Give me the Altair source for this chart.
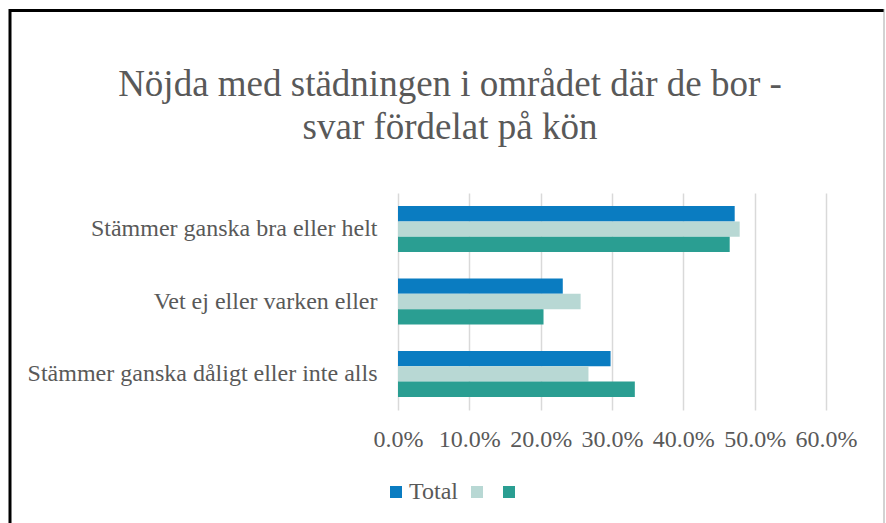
import altair as alt
import pandas as pd

categories = [
    "Stämmer ganska bra eller helt",
    "Vet ej eller varken eller",
    "Stämmer ganska dåligt eller inte alls",
]
series = ["Total", " ", "  "]
total_values = [0.472, 0.231, 0.298]
series2_values = [0.479, 0.256, 0.267]
series3_values = [0.465, 0.204, 0.332]
colors = ["#0A7CC1", "#B8D8D4", "#2A9E92"]
tick_values = [0.0, 0.1, 0.2, 0.3, 0.4, 0.5, 0.6]
title_lines = ["Nöjda med städningen i området där de bor -", "svar fördelat på kön"]

rows = []
for i, cat in enumerate(categories):
    for s, vals in zip(series, [total_values, series2_values, series3_values]):
        rows.append({"kategori": cat, "serie": s, "andel": vals[i]})
df = pd.DataFrame(rows)

FONT = "Liberation Serif"
GRAY = "#595959"

bars = alt.Chart(df).mark_bar().encode(
    x=alt.X(
        "andel:Q",
        scale=alt.Scale(domain=[0, 0.6], nice=False),
        axis=alt.Axis(
            values=tick_values, format=".1%", title=None, domain=False, ticks=False,
            labelFont=FONT, labelFontSize=24, labelColor=GRAY, labelPadding=17,
            grid=True, gridColor="#D9D9D9", gridWidth=1.5, labelFlush=False,
        ),
    ),
    y=alt.Y(
        "kategori:N", sort=categories,
        scale=alt.Scale(paddingInner=0.364, paddingOuter=0.18),
        axis=alt.Axis(
            title=None, domain=False, ticks=False, grid=False,
            labelFont=FONT, labelFontSize=24, labelColor=GRAY, labelPadding=21, labelLimit=500,
        ),
    ),
    yOffset=alt.YOffset("serie:N", sort=series),
    color=alt.Color(
        "serie:N", sort=series,
        scale=alt.Scale(domain=series, range=colors),
        legend=alt.Legend(
            orient="none", legendX=-14, legendY=287, direction="horizontal", title=None,
            symbolType="square", symbolSize=144, symbolStrokeWidth=0,
            labelFont=FONT, labelFontSize=24, labelColor=GRAY, labelOffset=1,
            columnPadding=7, labelExpr="trim(datum.label)",
        ),
    ),
)

one = pd.DataFrame({"a": [0]})
frame_top = alt.Chart(one).mark_rule(color="black", strokeWidth=3).encode(
    x=alt.value(-388), x2=alt.value(486), y=alt.value(-182.5)
)
frame_left = alt.Chart(one).mark_rule(color="black", strokeWidth=3).encode(
    x=alt.value(-388), y=alt.value(-184), y2=alt.value(340)
)
frame_right = alt.Chart(one).mark_rule(color="#A6A6A6", strokeWidth=1).encode(
    x=alt.value(486), y=alt.value(-184), y2=alt.value(340)
)

chart = alt.layer(bars, frame_top, frame_left, frame_right).properties(
    width=428,
    height=217,
    padding={"left": 398, "top": 193, "right": 60, "bottom": 113},
    autosize=alt.AutoSizeParams(type="none"),
    title=alt.TitleParams(
        text=title_lines, fontSize=37, font=FONT, color=GRAY, fontWeight="normal",
        anchor="middle", frame="group", dx=-162, dy=139, lineHeight=43, offset=0,
    ),
).configure(background="white").configure_view(stroke=None)

chart.save("out.html", embed_options={"renderer": "svg", "actions": False})
